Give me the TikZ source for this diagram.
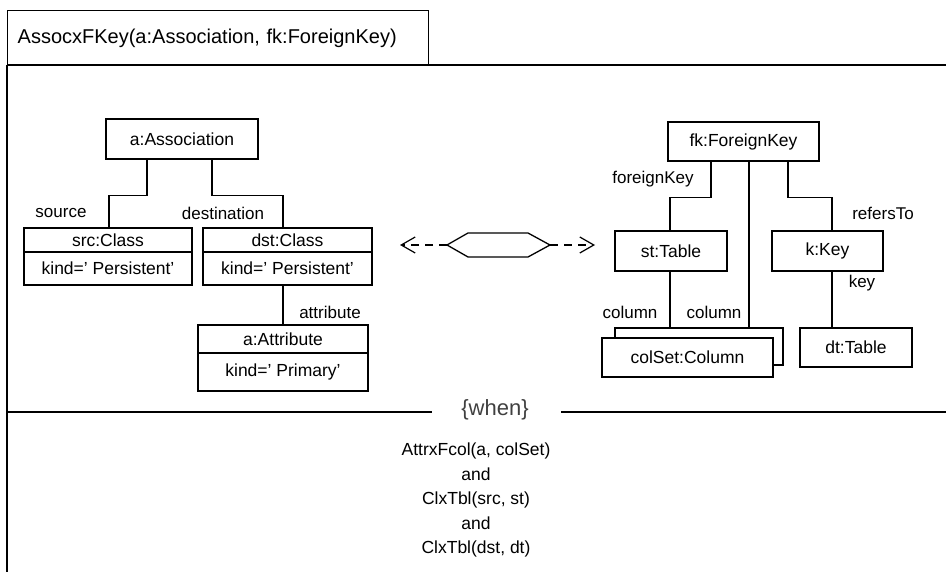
\documentclass[tikz,border=0pt]{standalone}
\usepackage{fontspec}
\setmainfont{Liberation Sans}
\usetikzlibrary{arrows.meta}
\begin{document}
\begin{tikzpicture}[x=1pt,y=-1pt,
  every node/.style={font=\fontsize{17.5}{21}\selectfont, inner sep=0pt},
  frame/.style={line width=1.4pt},
  box/.style={draw, line width=1.3pt, fill=white},
  link/.style={line width=1.2pt},
  role/.style={font=\fontsize{17}{20}\selectfont},
  dashlink/.style={line width=1.2pt, dash pattern=on 8pt off 6pt,
    -{Straight Barb[length=14pt,width=16pt,line width=1.2pt]}}]
\useasboundingbox (0,0) rectangle (946,572);

% ---- frame with title tab and guard separator
\node[draw, frame, anchor=north west, minimum width=421pt, minimum height=55pt,
      text width=401pt, align=left, inner xsep=10pt,
      font=\fontsize{20}{24}\selectfont] (title) at (7,10)
  {AssocxFKey(a:Association, fk:ForeignKey)};
\draw[frame] (7,65) -- (946,65);
\draw[frame] (7,65) -- (7,572);
\node[font=\fontsize{22}{26}\selectfont, text=black!75] (when) at (495,410) {\{when\}};
\draw[frame] (7,412) -- (432,412);
\draw[frame] (561,412) -- (946,412);

% ---- association side
\node[box, minimum width=152pt, minimum height=40pt] (assoc) at (182,139) {a:Association};
\node[box, minimum width=168pt, minimum height=24pt] (srch) at (108,240) {src:Class};
\node[box, minimum width=168pt, minimum height=33pt] (srcb) at (108,268.5) {kind=' Persistent'};
\node[box, minimum width=169pt, minimum height=24pt] (dsth) at (287.5,240) {dst:Class};
\node[box, minimum width=169pt, minimum height=33pt] (dstb) at (287.5,268.5) {kind=' Persistent'};
\node[box, minimum width=170pt, minimum height=28pt] (attrh) at (283,339) {a:Attribute};
\node[box, minimum width=170pt, minimum height=38pt] (attrb) at (283,372) {kind=' Primary'};

\draw[link] ([xshift=-35pt]assoc.south) -- ++(0,36) -| ([xshift=1pt]srch.north);
\draw[link] ([xshift=30pt]assoc.south) -- ++(0,36) -| ([xshift=-4.5pt]dsth.north);
\draw[link] (attrh.north) -- (attrh.north |- dstb.south);

\node[role] (lsrc) at (61,213) {source};
\node[role] (ldst) at (223,213) {destination};
\node[role] (lattr) at (330,312) {attribute};

% ---- correspondence between the two patterns
\coordinate (hexL) at (447,245);
\coordinate (hexR) at (550,245);
\coordinate (tipL) at (400,245);
\coordinate (tipR) at (595,245);
\draw[line width=1.3pt] (hexL) -- (468,233) -- (528,233) -- (hexR) -- (528,257) -- (468,257) -- cycle;
\draw[dashlink] (hexL) -- (tipL);
\draw[dashlink] (hexR) -- (tipR);

% ---- foreign key side
\node[box, minimum width=151pt, minimum height=39pt] (fk) at (743.5,141.5) {fk:ForeignKey};
\node[box, minimum width=112pt, minimum height=40pt] (st) at (671,251) {st:Table};
\node[box, minimum width=111pt, minimum height=40pt] (key) at (827.5,251) {k:Key};
\node[box, minimum width=168pt, minimum height=37pt] (colback) at (699,346.5) {};
\node[box, minimum width=171pt, minimum height=39pt] (colset) at (687.5,357.5) {colSet:Column};
\node[box, minimum width=112pt, minimum height=39pt] (dt) at (856,347.5) {dt:Table};

\draw[link] ([xshift=-32.5pt]fk.south) -- ++(0,36) -| ([xshift=-1pt]st.north);
\draw[link] ([xshift=5.5pt]fk.south) -- ([xshift=5.5pt]fk.south |- colback.north);
\draw[link] ([xshift=44.5pt]fk.south) -- ++(0,36) -| ([xshift=4.5pt]key.north);
\draw[link] ([xshift=-1pt]st.south) -- ([xshift=-1pt]st.south |- colback.north);
\draw[link] ([xshift=4.5pt]key.south) -- ([xshift=4.5pt]key.south |- dt.north);

\node[role] (lfk) at (653,179) {foreignKey};
\node[role] (lref) at (883,213) {refersTo};
\node[role] (lkey) at (862,283) {key};
\node[role] (lcol1) at (630,312) {column};
\node[role] (lcol2) at (714,312) {column};

% ---- guard condition
\node[align=center, font=\fontsize{17.5}{24.5}\selectfont] (guard) at (476,500)
  {AttrxFcol(a, colSet)\\and\\ClxTbl(src, st)\\and\\ClxTbl(dst, dt)};
\end{tikzpicture}
\end{document}
